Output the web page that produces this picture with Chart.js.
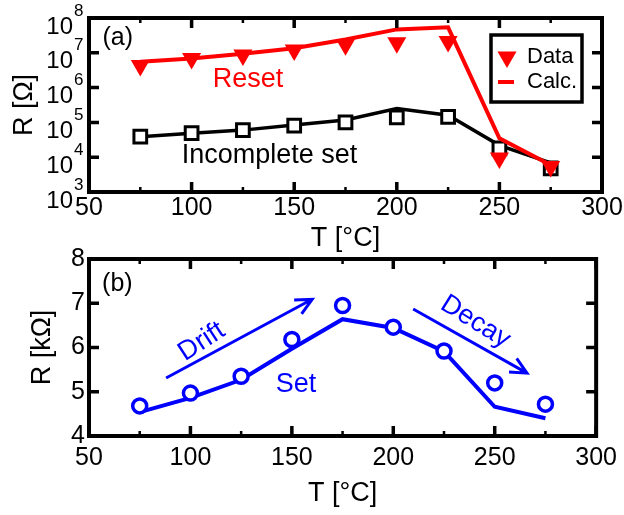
<!doctype html>
<html lang="en">
<head>
<meta charset="UTF-8">
<title>R vs T</title>
<script src="https://cdn.jsdelivr.net/npm/chart.js"></script>
<style>
  body { margin: 0; background: #fff; }
  #wrap { position: relative; width: 624px; height: 515px; }
  .box { position: absolute; left: 0; width: 624px; }
  #boxA { top: 0; height: 256px; }
  #boxB { top: 240px; height: 275px; }
</style>
</head>
<body>
<div id="wrap">
  <div class="box" id="boxA"><canvas id="chartA"></canvas></div>
  <div class="box" id="boxB"><canvas id="chartB"></canvas></div>
</div>
<script>
  // temperatures [°C]
  const temps = [75, 100, 125, 150, 175, 200, 225, 250, 275];

  // (a) resistance [Ohm]
  const resetData = [4.3e6, 6.9e6, 8.7e6, 1.2e7, 1.7e7, 1.95e7, 2.1e7, 9.5e3, 5.4e3];
  const resetCalc = [5.5e6, 6.9e6, 9.4e6, 1.35e7, 2.4e7, 4.7e7, 5.4e7, 3.5e4, 6.0e3];
  const incData = [3.9e4, 4.9e4, 6.0e4, 8.1e4, 1.0e5, 1.4e5, 1.45e5, 1.8e4, 4.8e3];
  const incCalc = [3.9e4, 4.9e4, 6.0e4, 8.4e4, 1.17e5, 2.5e5, 1.6e5, 2.2e4, 6.9e3];

  // (b) set resistance [kOhm]
  const setData = [4.68, 4.97, 5.35, 6.18, 6.95, 6.46, 5.92, 5.20, 4.72];
  const setCalc = [4.54, 4.86, 5.27, 5.97, 6.64, 6.44, 5.91, 4.66, 4.40];

  // axis ticks
  const xTicks = [50, 100, 150, 200, 250, 300];
  const xMinorTicks = [75, 125, 175, 225, 275];
  const decades = [3, 4, 5, 6, 7, 8];
  const kohmTicks = [4, 5, 6, 7, 8];

  const FONT = "'Liberation Sans', Arial, Helvetica, sans-serif";
  const RED = '#ff0000';
  const BLUE = '#0000ff';

  function pts(ys) {
    return temps.map((t, i) => ({x: t, y: ys[i]}));
  }

  function xAxis(height, labelPad, titlePad) {
    return {
      type: 'linear',
      min: 50,
      max: 300,
      afterBuildTicks: s => { s.ticks = xTicks.map(v => ({value: v})); },
      afterFit: s => { s.height = height; },
      grid: {display: false, drawTicks: false},
      border: {display: false},
      ticks: {font: {family: FONT, size: 25}, color: '#000', padding: labelPad, maxRotation: 0, autoSkip: false},
      title: {display: true, text: 'T [°C]', color: '#000', font: {family: FONT, size: 27}, padding: {top: 0, bottom: titlePad}}
    };
  }

  // box with inward ticks on all sides
  function framePlugin(yMajor) {
    return {
      id: 'frame',
      afterDatasetsDraw(chart) {
        const {ctx, chartArea: a, scales} = chart;
        ctx.save();
        ctx.strokeStyle = '#000';
        ctx.lineCap = 'butt';
        ctx.lineWidth = 3.5;
        xTicks.forEach(v => {
          const px = scales.x.getPixelForValue(v);
          ctx.beginPath();
          ctx.moveTo(px, a.bottom); ctx.lineTo(px, a.bottom - 10);
          ctx.moveTo(px, a.top); ctx.lineTo(px, a.top + 10);
          ctx.stroke();
        });
        yMajor.forEach(v => {
          const py = scales.y.getPixelForValue(v);
          ctx.beginPath();
          ctx.moveTo(a.left, py); ctx.lineTo(a.left + 10, py);
          ctx.moveTo(a.right, py); ctx.lineTo(a.right - 10, py);
          ctx.stroke();
        });
        ctx.lineWidth = 2.5;
        xMinorTicks.forEach(v => {
          const px = scales.x.getPixelForValue(v);
          ctx.beginPath();
          ctx.moveTo(px, a.bottom); ctx.lineTo(px, a.bottom - 5);
          ctx.moveTo(px, a.top); ctx.lineTo(px, a.top + 5);
          ctx.stroke();
        });
        ctx.lineWidth = 4;
        ctx.strokeRect(a.left, a.top, a.right - a.left, a.bottom - a.top);
        ctx.restore();
      }
    };
  }

  function drawText(ctx, text, x, y, size, color, angle) {
    ctx.save();
    ctx.translate(x, y);
    ctx.rotate((angle || 0) * Math.PI / 180);
    ctx.font = size + 'px ' + FONT;
    ctx.fillStyle = color;
    ctx.textAlign = 'center';
    ctx.textBaseline = 'middle';
    ctx.fillText(text, 0, 0);
    ctx.restore();
  }

  function drawArrow(ctx, x0, y0, x1, y1, color) {
    const ang = Math.atan2(y1 - y0, x1 - x0);
    const head = 18;
    ctx.save();
    ctx.strokeStyle = color;
    ctx.lineWidth = 3;
    ctx.beginPath();
    ctx.moveTo(x0, y0);
    ctx.lineTo(x1, y1);
    ctx.moveTo(x1 - head * Math.cos(ang - 0.45), y1 - head * Math.sin(ang - 0.45));
    ctx.lineTo(x1, y1);
    ctx.lineTo(x1 - head * Math.cos(ang + 0.45), y1 - head * Math.sin(ang + 0.45));
    ctx.stroke();
    ctx.restore();
  }

  // log tick labels 10^n and notes for (a)
  const notesA = {
    id: 'notesA',
    afterDraw(chart) {
      const {ctx, scales: {x, y}} = chart;
      ctx.save();
      ctx.fillStyle = '#000';
      decades.forEach(d => {
        const py = y.getPixelForValue(Math.pow(10, d));
        ctx.font = '24px ' + FONT;
        ctx.textAlign = 'right';
        ctx.textBaseline = 'middle';
        ctx.fillText('10', 73, py + 9);
        ctx.font = '17px ' + FONT;
        ctx.textAlign = 'left';
        ctx.fillText(String(d), 74, py - 7);
      });
      ctx.restore();

      drawText(ctx, '(a)', x.getPixelForValue(64), y.getPixelForValue(2.7e7), 25, '#000');
      drawText(ctx, 'Reset', x.getPixelForValue(127.5), y.getPixelForValue(1.66e6), 27, RED);
      drawText(ctx, 'Incomplete set', x.getPixelForValue(138), y.getPixelForValue(1.15e4), 27, '#000');

      // legend
      const lx = 491, ly = 35, lw = 91, lh = 67;
      ctx.save();
      ctx.fillStyle = '#fff';
      ctx.fillRect(lx, ly, lw, lh);
      ctx.lineWidth = 3.5;
      ctx.strokeStyle = '#000';
      ctx.strokeRect(lx, ly, lw, lh);
      const tx = 507, ty = 57, r = 11;
      ctx.fillStyle = RED;
      ctx.beginPath();
      ctx.moveTo(tx, ty + r);
      ctx.lineTo(tx - r * 0.866, ty - r / 2);
      ctx.lineTo(tx + r * 0.866, ty - r / 2);
      ctx.closePath();
      ctx.fill();
      ctx.strokeStyle = RED;
      ctx.lineWidth = 4;
      ctx.beginPath();
      ctx.moveTo(498, 82); ctx.lineTo(514, 82);
      ctx.stroke();
      ctx.fillStyle = '#000';
      ctx.font = '22px ' + FONT;
      ctx.textAlign = 'left';
      ctx.textBaseline = 'middle';
      ctx.fillText(chart.data.datasets[0].label, 527, 57);
      ctx.fillText(chart.data.datasets[1].label, 527, 82);
      ctx.restore();
    }
  };

  const notesB = {
    id: 'notesB',
    afterDraw(chart) {
      const {ctx, scales: {x, y}} = chart;
      const P = (t, r) => [x.getPixelForValue(t), y.getPixelForValue(r)];
      drawText(ctx, '(b)', ...P(64, 7.44), 25, '#000');
      drawText(ctx, 'Drift', ...P(105.6, 6.13), 27, BLUE, -33);
      drawText(ctx, 'Decay', ...P(240.5, 6.58), 27, BLUE, 32);
      drawText(ctx, 'Set', ...P(152, 5.16), 27, BLUE);
      drawArrow(ctx, ...P(88, 5.31), ...P(160, 7.09), BLUE);
      drawArrow(ctx, ...P(209.8, 6.87), ...P(265.9, 5.42), BLUE);
    }
  };

  new Chart(document.getElementById('chartA'), {
    type: 'line',
    data: {
      datasets: [
        {label: 'Data', data: pts(resetData), showLine: false, pointStyle: 'triangle', rotation: 180,
          pointRadius: 11, backgroundColor: RED, borderColor: RED, borderWidth: 0},
        {label: 'Calc.', data: pts(resetCalc), borderColor: RED, borderWidth: 4, pointRadius: 0, tension: 0},
        {label: 'Incomplete data', data: pts(incData), showLine: false, pointStyle: 'rect',
          pointRadius: 9, backgroundColor: '#fff', borderColor: '#000', borderWidth: 3},
        {label: 'Incomplete calc', data: pts(incCalc), borderColor: '#000', borderWidth: 3.5, pointRadius: 0, tension: 0}
      ]
    },
    options: {
      responsive: true,
      maintainAspectRatio: false,
      animation: false,
      layout: {padding: {top: 18, right: 22, bottom: 0, left: 0}},
      plugins: {legend: {display: false}, tooltip: {enabled: false}},
      scales: {
        x: xAxis(64, 1, 1),
        y: {
          type: 'logarithmic',
          min: 1e3,
          max: 1e8,
          afterBuildTicks: s => { s.ticks = decades.map(d => ({value: Math.pow(10, d)})); },
          afterFit: s => { s.width = 89; },
          grid: {display: false, drawTicks: false},
          border: {display: false},
          ticks: {display: false},
          title: {display: true, text: 'R [Ω]', color: '#000', font: {family: FONT, size: 27}, padding: {top: 8, bottom: 0}}
        }
      }
    },
    plugins: [framePlugin(decades.map(d => Math.pow(10, d))), notesA]
  });

  new Chart(document.getElementById('chartB'), {
    type: 'line',
    data: {
      datasets: [
        {label: 'Set data', data: pts(setData), showLine: false, pointStyle: 'circle',
          pointRadius: 7, backgroundColor: '#fff', borderColor: BLUE, borderWidth: 3.5},
        {label: 'Set calc', data: pts(setCalc), borderColor: BLUE, borderWidth: 4, pointRadius: 0, tension: 0}
      ]
    },
    options: {
      responsive: true,
      maintainAspectRatio: false,
      animation: false,
      layout: {padding: {top: 16, right: 22, bottom: 0, left: 0}},
      plugins: {legend: {display: false}, tooltip: {enabled: false}},
      scales: {
        x: xAxis(79, 7, 5),
        y: {
          type: 'linear',
          min: 4,
          max: 8,
          afterBuildTicks: s => { s.ticks = kohmTicks.map(v => ({value: v})); },
          afterFit: s => { s.width = 89; },
          grid: {display: false, drawTicks: false},
          border: {display: false},
          ticks: {font: {family: FONT, size: 25}, color: '#000', padding: 4},
          title: {display: true, text: 'R [kΩ]', color: '#000', font: {family: FONT, size: 27}, padding: {top: 26, bottom: 0}}
        }
      }
    },
    plugins: [framePlugin(kohmTicks), notesB]
  });
</script>
</body>
</html>
